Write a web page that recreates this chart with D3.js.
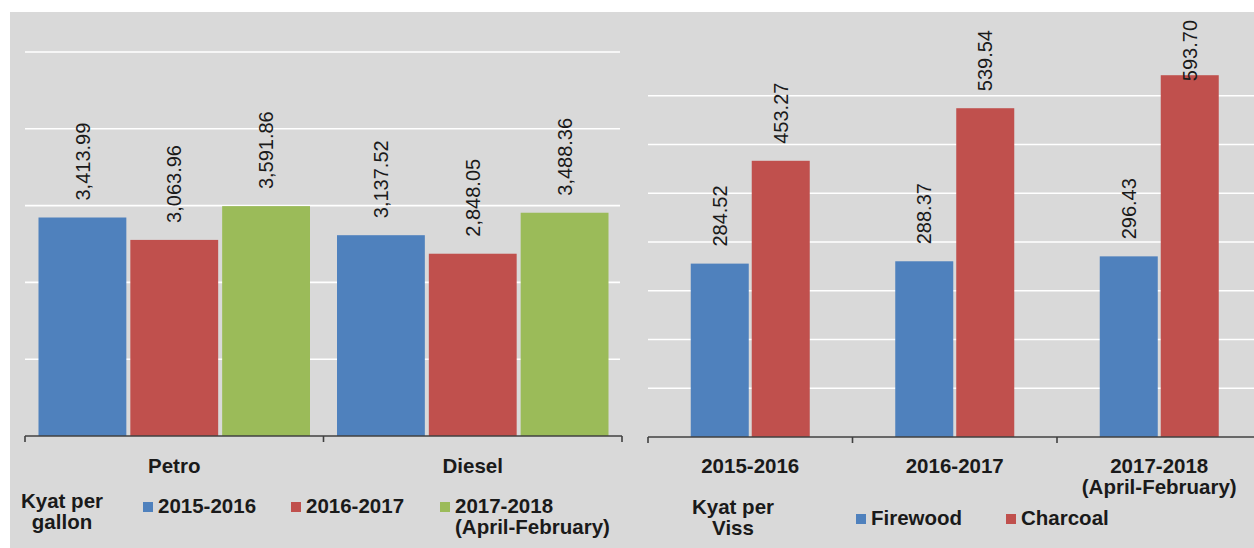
<!DOCTYPE html>
<html>
<head>
<meta charset="utf-8">
<script src="https://cdn.jsdelivr.net/npm/d3@7"></script>
<style>
  html, body { margin: 0; padding: 0; background: #ffffff; }
  svg { display: block; font-family: "Liberation Sans", Arial, Helvetica, sans-serif; }
</style>
</head>
<body>
<svg id="chart" width="1254" height="548"></svg>
<script>
// Fuel prices, Kyat per gallon
const fuelTypes = ["Petro", "Diesel"];
const fuelPeriods = ["2015-2016", "2016-2017", "2017-2018 (April-February)"];
const petroPrices = [3413.99, 3063.96, 3591.86];
const dieselPrices = [3137.52, 2848.05, 3488.36];
const fuelTicks = [1200, 2400, 3600, 4800, 6000];

// Wood fuel prices, Kyat per viss
const woodYears = ["2015-2016", "2016-2017", "2017-2018|(April-February)"];
const woodKinds = ["Firewood", "Charcoal"];
const firewoodPrices = [284.52, 288.37, 296.43];
const charcoalPrices = [453.27, 539.54, 593.70];
const woodTicks = [80, 160, 240, 320, 400, 480, 560];

const colors = {
  "2015-2016": "#4f81bd", "2016-2017": "#c0504d", "2017-2018 (April-February)": "#9bbb59",
  "Firewood": "#4f81bd", "Charcoal": "#c0504d"
};

const svg = d3.select("#chart");
const fmt = d3.format(",.2f");
const TEXT = "#1a1a1a";
const BOLD_SIZE = 20.5;

svg.append("rect").attr("x", 10).attr("y", 12).attr("width", 1244).attr("height", 536).attr("fill", "#d9d9d9");

function drawPanel(opts) {
  const g = svg.append("g");
  const y = d3.scaleLinear().domain(opts.yDomain).range(opts.yRange);
  const x0 = d3.scaleBand().domain(opts.categories).range(opts.xRange).padding(0);
  const x1 = d3.scaleBand().domain(opts.series).range([opts.groupPad, x0.bandwidth() - opts.groupPad])
    .paddingInner(opts.barGap).paddingOuter(0);

  // gridlines
  g.append("g").selectAll("line").data(opts.ticks).join("line")
    .attr("x1", opts.gridX[0]).attr("x2", opts.gridX[1])
    .attr("y1", d => y(d)).attr("y2", d => y(d))
    .attr("stroke", "#ffffff").attr("stroke-width", 1.6);

  // one row per bar: values[s][c] is series s in category c
  const rows = [];
  opts.categories.forEach((c, i) => {
    opts.series.forEach((s, j) => rows.push({ cat: c, ser: s, value: opts.values[j][i] }));
  });

  g.append("g").selectAll("rect").data(rows).join("rect")
    .attr("x", d => x0(d.cat) + x1(d.ser))
    .attr("y", d => y(d.value))
    .attr("width", x1.bandwidth())
    .attr("height", d => y(0) - y(d.value))
    .attr("fill", d => colors[d.ser]);

  // rotated value labels, kept inside the chart area
  const labels = g.append("g").selectAll("text").data(rows).join("text")
    .attr("font-size", 20).attr("fill", TEXT)
    .attr("dy", "0.36em")
    .text(d => fmt(d.value));
  labels.each(function (d) {
    const len = this.getComputedTextLength();
    const base = Math.max(y(d.value) - 17, opts.labelTop + len);
    const cx = x0(d.cat) + x1(d.ser) + x1.bandwidth() / 2;
    d3.select(this).attr("transform", `translate(${cx},${base}) rotate(-90)`);
  });

  // category axis with boundary ticks
  const axis = d3.axisBottom(x0).tickSize(0).tickFormat("");
  const ax = g.append("g").attr("transform", `translate(0,${y(0)})`).call(axis);
  ax.select(".domain").attr("stroke", "#404040").attr("stroke-width", 1.6)
    .attr("d", `M${opts.xRange[0]},0H${opts.xRange[1]}`);
  const edges = opts.categories.map(c => x0(c)).concat([opts.xRange[1]]);
  ax.selectAll(".edge").data(edges).join("line").attr("class", "edge")
    .attr("x1", d => d).attr("x2", d => d).attr("y1", 0).attr("y2", 6)
    .attr("stroke", "#404040").attr("stroke-width", 1.6);

  g.append("g").selectAll("text").data(opts.categories).join("text")
    .attr("x", d => x0(d) + x0.bandwidth() / 2)
    .attr("y", opts.catBaseline)
    .attr("text-anchor", "middle").attr("font-size", BOLD_SIZE).attr("font-weight", "bold").attr("fill", TEXT)
    .selectAll("tspan").data(d => d.split("|")).join("tspan")
    .attr("x", function () { return d3.select(this.parentNode).attr("x"); })
    .attr("dy", (d, i) => i === 0 ? 0 : 21)
    .text(d => d);
}

drawPanel({
  categories: fuelTypes, series: fuelPeriods,
  values: fuelPeriods.map((p, i) => [petroPrices[i], dieselPrices[i]]),
  yDomain: [0, 6000], yRange: [436, 52], ticks: fuelTicks,
  xRange: [25, 622], groupPad: 13.5, barGap: 0.0435, gridX: [25, 620],
  labelTop: 20, catBaseline: 473
});

drawPanel({
  categories: woodYears, series: woodKinds, values: [firewoodPrices, charcoalPrices],
  yDomain: [0, 640], yRange: [437, 47], ticks: woodTicks,
  xRange: [648, 1261.5], groupPad: 42.75, barGap: 0.049, gridX: [648, 1254],
  labelTop: 20, catBaseline: 473
});

// unit captions and legends
function unitLabel(lines, cx, y0) {
  svg.append("text").attr("x", cx).attr("y", y0).attr("text-anchor", "middle")
    .attr("font-size", BOLD_SIZE).attr("font-weight", "bold").attr("fill", TEXT)
    .selectAll("tspan").data(lines).join("tspan")
    .attr("x", cx).attr("dy", (d, i) => i === 0 ? 0 : 21).text(d => d);
}
function legendItems(items, xs, baseline) {
  const g = svg.append("g");
  items.forEach((it, i) => {
    g.append("rect").attr("x", xs[i]).attr("y", baseline - 11).attr("width", 10).attr("height", 10)
      .attr("fill", colors[it.key]);
    g.append("text").attr("x", xs[i] + 15).attr("y", baseline)
      .attr("font-size", BOLD_SIZE).attr("font-weight", "bold").attr("fill", TEXT)
      .selectAll("tspan").data(it.lines).join("tspan")
      .attr("x", xs[i] + 15).attr("dy", (d, k) => k === 0 ? 0 : 21).text(d => d);
  });
}

unitLabel(["Kyat per", "gallon"], 62, 508);
legendItems([
  { key: fuelPeriods[0], lines: ["2015-2016"] },
  { key: fuelPeriods[1], lines: ["2016-2017"] },
  { key: fuelPeriods[2], lines: ["2017-2018", "(April-February)"] }
], [143, 291, 440], 513);

unitLabel(["Kyat per", "Viss"], 733, 514);
legendItems([
  { key: "Firewood", lines: ["Firewood"] },
  { key: "Charcoal", lines: ["Charcoal"] }
], [856, 1006], 525);
</script>
</body>
</html>
